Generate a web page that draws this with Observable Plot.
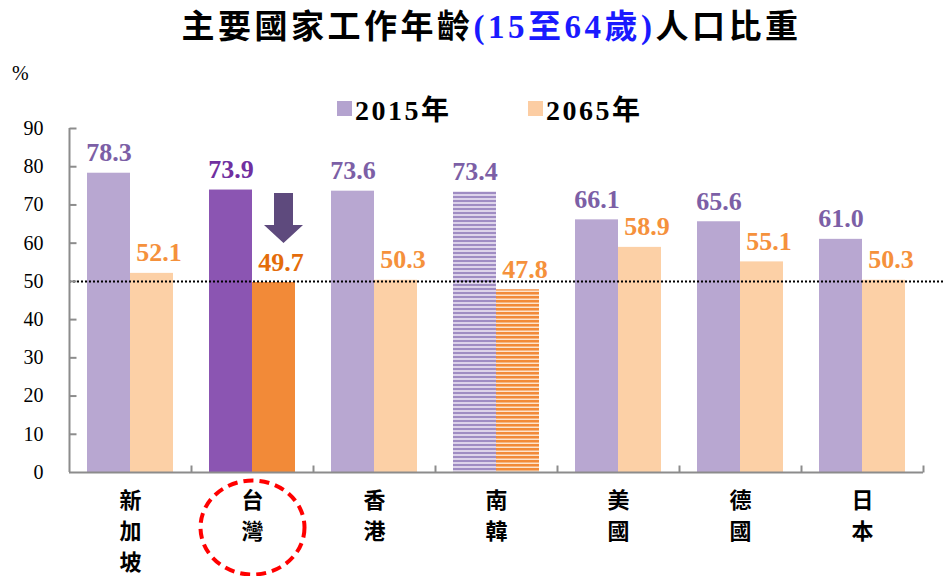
<!DOCTYPE html>
<html><head><meta charset="utf-8">
<script src="https://cdn.jsdelivr.net/npm/d3@7"></script>
<script src="https://cdn.jsdelivr.net/npm/@observablehq/plot@0.6"></script>
<style>
body{margin:0;background:#fff;}
#wrap{position:relative;width:943px;height:576px;overflow:hidden;background:#fff;}
#chart{position:absolute;left:0;top:0;}
#title{position:absolute;left:20px;top:5px;width:943px;text-align:center;font-family:"Liberation Serif","Times New Roman","DejaVu Serif","Noto Sans CJK TC",serif;font-weight:bold;font-size:33px;letter-spacing:3.5px;color:#000;white-space:nowrap;line-height:44px;}
#title .b{color:#1a1aff;}
#pct{position:absolute;left:12px;top:62px;font-family:"Liberation Serif","Times New Roman",serif;font-size:20px;color:#000;}
.leg{position:absolute;top:93px;height:30px;display:flex;align-items:center;font-family:"Liberation Serif","Times New Roman","Noto Sans CJK TC",serif;font-weight:bold;font-size:28px;letter-spacing:2.5px;color:#000;white-space:nowrap;}
.leg .sw{display:inline-block;width:15px;height:15px;margin-right:3px;}
#chart svg text.num{font-family:"Liberation Serif","Times New Roman",serif !important;}
</style></head><body>
<div id="wrap">
  <div id="chart"></div>
  <div id="title"></div>
  <div id="pct">%</div>
  <div id="leg1" class="leg" style="left:337px"><span class="sw" style="background:#b4a3cf"></span><span id="l1"></span></div>
  <div id="leg2" class="leg" style="left:528px"><span class="sw" style="background:#fccda3"></span><span id="l2"></span></div>
</div>
<script>
// ---- data ----
const countries = ["新加坡", "台灣", "香港", "南韓", "美國", "德國", "日本"];
const years = ["2015年", "2065年"];
const values2015 = [78.3, 73.9, 73.6, 73.4, 66.1, 65.6, 61.0];
const values2065 = [52.1, 49.7, 50.3, 47.8, 58.9, 55.1, 50.3];
const yTicks = [0, 10, 20, 30, 40, 50, 60, 70, 80, 90];
const refValue = 50;
const highlight = "台灣";
const patterned = "南韓";
const titleParts = ["主要國家工作年齡", "(15至64歲)", "人口比重"];
const yUnit = "%";

// ---- text ----
document.getElementById("title").innerHTML =
  titleParts[0] + '<span class="b">' + titleParts[1] + '</span>' + titleParts[2];
document.getElementById("l1").textContent = years[0];
document.getElementById("l2").textContent = years[1];
document.getElementById("pct").textContent = yUnit;

const rows15 = countries.map((c, i) => ({country: c, value: values2015[i]}));
const rows65 = countries.map((c, i) => ({country: c, value: values2065[i]}));

const x0 = 69, x1 = 923;
const step = (x1 - x0) / countries.length;
const barW = 43;
const outer = (step - 2 * barW) / 2;

const fill15 = d => d.country === highlight ? "#8b55b2" : "#b8a7d1";
const fill65 = d => d.country === highlight ? "#f28a38" : "#fcd0a6";
const lab15 = d => d.country === highlight ? "#7030a0" : "#7c5fa6";
const lab65 = d => d.country === highlight ? "#e46c0a" : "#f5913c";

const tickH = {draw(ctx) { ctx.moveTo(0, 0); ctx.lineTo(7, 0); }};
const tickV = {draw(ctx) { ctx.moveTo(0, 0); ctx.lineTo(0, -7); }};
const arrowSym = {draw(ctx) {
  ctx.moveTo(-9.5, 0); ctx.lineTo(9.5, 0); ctx.lineTo(9.5, 32); ctx.lineTo(19.5, 32);
  ctx.lineTo(0, 50); ctx.lineTo(-19.5, 32); ctx.lineTo(-9.5, 32); ctx.closePath();
}};
const ellipseSym = {draw(ctx) {
  const rx = 52, ry = 47, k = 0.5523;
  ctx.moveTo(rx, 0);
  ctx.bezierCurveTo(rx, ry * k, rx * k, ry, 0, ry);
  ctx.bezierCurveTo(-rx * k, ry, -rx, ry * k, -rx, 0);
  ctx.bezierCurveTo(-rx, -ry * k, -rx * k, -ry, 0, -ry);
  ctx.bezierCurveTo(rx * k, -ry, rx, -ry * k, rx, 0);
  ctx.closePath();
}};

const serif = '"Liberation Serif", "Times New Roman", serif';
const num = {fontFamily: serif, fontWeight: "bold", fontSize: 26};
const axisGray = "#8c8c8c";

const chart = Plot.plot({
  width: 943, height: 576,
  marginLeft: x0, marginRight: 0, marginTop: 128, marginBottom: 104,
  x: {type: "band", domain: countries, range: [x0, x1], padding: 0, axis: null},
  y: {domain: [0, 90], axis: null},
  color: {type: "identity"},
  style: {background: "transparent", overflow: "visible"},
  marks: [
    Plot.barY(rows15, {filter: d => d.country !== patterned, x: "country", y: "value", fill: fill15, insetLeft: outer, insetRight: step / 2}),
    Plot.barY(rows65, {filter: d => d.country !== patterned, x: "country", y: "value", fill: fill65, insetLeft: step / 2, insetRight: outer}),
    Plot.barY(rows15, {filter: d => d.country === patterned, x: "country", y: "value", fill: "url(#stripeP)", insetLeft: outer, insetRight: step / 2}),
    Plot.barY(rows65, {filter: d => d.country === patterned, x: "country", y: "value", fill: "url(#stripeO)", insetLeft: step / 2, insetRight: outer}),
    Plot.ruleY([refValue], {stroke: "#000", strokeWidth: 2, strokeDasharray: "2,2"}),
    // axes
    Plot.tickY(countries, {x: d => d, y: () => 0, stroke: axisGray, strokeWidth: 2}),
    Plot.ruleX([countries[0]], {x: d => d, dx: -step / 2, y1: 0, y2: 90, stroke: axisGray, strokeWidth: 2}),
    Plot.dot(yTicks.slice(1), {y: d => d, frameAnchor: "left", symbol: tickH, fill: "none", stroke: axisGray, strokeWidth: 2}),
    Plot.dot(countries, {x: d => d, y: () => 0, dx: step / 2, symbol: tickV, fill: "none", stroke: axisGray, strokeWidth: 2}),
    Plot.text(yTicks, {y: d => d, text: d => String(d), frameAnchor: "left", dx: -26, textAnchor: "end", lineAnchor: "middle", fontFamily: serif, fontSize: 20, fill: "#000"}),
    // value labels
    Plot.text(rows15, {x: "country", y: "value", text: d => d.value.toFixed(1), dx: -barW / 2, dy: -12, lineAnchor: "bottom", fill: lab15, ...num}),
    Plot.text(rows65, {x: "country", y: "value", text: d => d.value.toFixed(1), dx: barW / 2 + 7, dy: -12, lineAnchor: "bottom", fill: lab65, ...num}),
    // category labels
    Plot.text(countries, {x: d => d, text: d => d.split("").join("\n"), frameAnchor: "bottom", lineAnchor: "top", dy: 13, lineHeight: 1.42, fontSize: 22, fontWeight: "bold", fontFamily: "Noto Sans CJK TC", fill: "#000"}),
    // annotations
    Plot.dot(rows15.filter(d => d.country === highlight), {x: "country", y: "value", dx: 31, dy: 3, symbol: arrowSym, fill: "#5e4a7d", stroke: "none"}),
    Plot.dot([highlight], {x: d => d, frameAnchor: "bottom", dy: 55, symbol: ellipseSym, fill: "none", stroke: "#ff0000", strokeWidth: 4, strokeDasharray: "10,6"})
  ]
});

// serif font for numeric texts
d3.select(chart).selectAll("text").each(function() {
  if (/^[\d.]+$/.test(this.textContent.trim())) {
    this.classList.add("num");
    this.style.fontFamily = serif;
  }
});

// patterns for the striped bars
const ns = "http://www.w3.org/2000/svg";
const defs = document.createElementNS(ns, "defs");
function pattern(id, base, line, lineH) {
  const p = document.createElementNS(ns, "pattern");
  p.setAttribute("id", id); p.setAttribute("patternUnits", "userSpaceOnUse");
  p.setAttribute("width", 8); p.setAttribute("height", 4);
  const r1 = document.createElementNS(ns, "rect");
  r1.setAttribute("width", 8); r1.setAttribute("height", 4); r1.setAttribute("fill", base);
  const r2 = document.createElementNS(ns, "rect");
  r2.setAttribute("width", 8); r2.setAttribute("height", lineH); r2.setAttribute("fill", line);
  p.appendChild(r1); p.appendChild(r2); defs.appendChild(p);
}
pattern("stripeP", "#ddd3ea", "#9f8cc3", 2);
pattern("stripeO", "#fde3cb", "#f28a38", 2.5);
chart.insertBefore(defs, chart.firstChild);
document.getElementById("chart").appendChild(chart);
</script>
</body></html>
